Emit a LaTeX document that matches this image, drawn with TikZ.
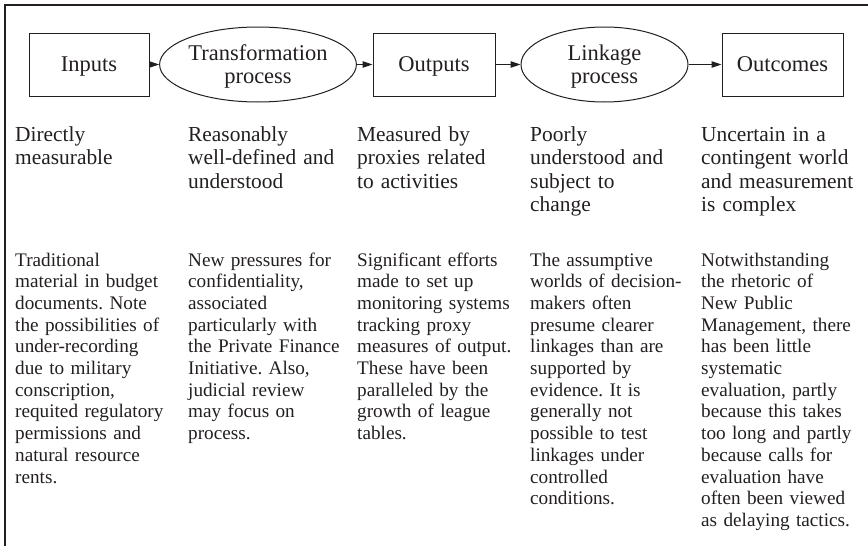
\documentclass[tikz,border=0pt]{standalone}
\usepackage{fontspec}
\setmainfont{Liberation Serif}
\usetikzlibrary{shapes.geometric,arrows.meta}
\definecolor{ink}{HTML}{231F20}
\frenchspacing
\begin{document}
\begin{tikzpicture}[x=1pt,y=-1pt,
  every node/.style={text=ink},
  boxnode/.style={draw=ink,line width=1pt,minimum width=120pt,minimum height=63pt,inner sep=0pt,text depth=0pt,font=\fontsize{22.5}{23}\selectfont},
  procnode/.style={draw=ink,ellipse,line width=1pt,inner sep=0pt,align=center,text depth=0pt,font=\fontsize{22.5}{23}\selectfont},
  flow/.style={draw=ink,line width=1pt,-{Triangle[length=10pt,width=6.5pt]}},
  toptext/.style={anchor=base west,inner sep=0pt,text width=165pt,align=left,font=\fontsize{21.4}{23.4}\selectfont},
  bottext/.style={anchor=base west,inner sep=0pt,text width=165pt,align=left,font=\fontsize{19.2}{21.7}\selectfont}]
\useasboundingbox (0,0) rectangle (868,546);
% frame
\coordinate (ftr) at (868,5);
\coordinate (ftl) at (5,5);
\coordinate (fbl) at (5,546);
\draw[ink,line width=1.4pt] (ftr) -- (ftl) -- (fbl);
% flow nodes
\node[boxnode] (inputs) at (89,64.5) {Inputs};
\node[procnode,minimum width=160pt,minimum height=75pt] (trans) at (258,64.5) {Transformation\\process};
\node[boxnode,minimum width=122pt] (outputs) at (434,64.5) {Outputs};
\node[procnode,minimum width=167pt,minimum height=75pt] (link) at (604.5,64.5) {Linkage\\process};
\node[boxnode,minimum width=121pt] (outcomes) at (782.5,64.5) {Outcomes};
\draw[flow] (inputs) -- (trans);
\draw[flow] (trans) -- (outputs);
\draw[flow] (outputs) -- (link);
\draw[flow] (link) -- (outcomes);
% top descriptions
\node[toptext] (t1) at (15,141.5) {Directly\\measurable};
\node[toptext] (t2) at (188,141.5) {Reasonably\\well-defined and\\understood};
\node[toptext] (t3) at (357,141.5) {Measured by\\proxies related\\to activities};
\node[toptext] (t4) at (530,141.5) {Poorly\\understood and\\subject to\\change};
\node[toptext] (t5) at (701,141.5) {Uncertain in a\\contingent world\\and measurement\\is complex};
% bottom notes
\node[bottext] (b1) at (15,266) {Traditional\\material in budget\\documents. Note\\the possibilities of\\under-recording\\due to military\\conscription,\\requited regulatory\\permissions and\\natural resource\\rents.};
\node[bottext] (b2) at (188,266) {New pressures for\\confidentiality,\\associated\\particularly with\\the Private Finance\\Initiative. Also,\\judicial review\\may focus on\\process.};
\node[bottext] (b3) at (357,266) {Significant efforts\\made to set up\\monitoring systems\\tracking proxy\\measures of output.\\These have been\\paralleled by the\\growth of league\\tables.};
\node[bottext] (b4) at (530,266) {The assumptive\\worlds of decision-\\makers often\\presume clearer\\linkages than are\\supported by\\evidence. It is\\generally not\\possible to test\\linkages under\\controlled\\conditions.};
\node[bottext] (b5) at (701,266) {Notwithstanding\\the rhetoric of\\New Public\\Management, there\\has been little\\systematic\\evaluation, partly\\because this takes\\too long and partly\\because calls for\\evaluation have\\often been viewed\\as delaying tactics.};
\end{tikzpicture}
\end{document}
